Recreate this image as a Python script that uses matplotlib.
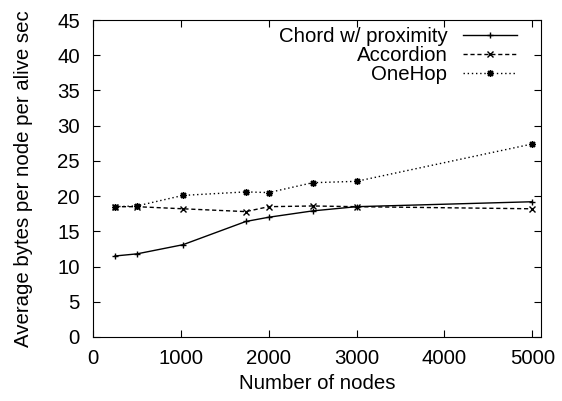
import matplotlib
matplotlib.use("Agg")
import matplotlib.pyplot as plt

plt.rcParams['font.family'] = ['Liberation Sans', 'DejaVu Sans']

nodes = [250, 500, 1024, 1740, 2000, 2500, 3000, 5000]
chord = [11.5, 11.8, 13.1, 16.4, 17.0, 17.9, 18.5, 19.2]
accordion = [18.5, 18.5, 18.2, 17.8, 18.5, 18.6, 18.5, 18.2]
onehop = [18.5, 18.6, 20.1, 20.6, 20.5, 21.9, 22.1, 27.4]

fs = 14.7

fig = plt.figure(figsize=(5.62, 4.01), dpi=100)
ax = fig.add_axes([93/562, 64/401, 448/562, 317/401])

ax.plot(nodes, chord, color='black', lw=1, ls='-', marker='+', ms=5, mew=1,
        label='Chord w/ proximity')
ax.plot(nodes, accordion, color='black', lw=1, ls=(0, (3, 2)), marker='x', ms=4, mew=1,
        label='Accordion')
ax.plot(nodes, onehop, color='black', lw=1, ls=(0, (1, 2)), marker=(8, 2, 0), ms=5, mew=1,
        label='OneHop')

ax.set_xlim(0, 5100)
ax.set_ylim(0, 45)
ax.set_xticks([0, 1000, 2000, 3000, 4000, 5000])
ax.set_yticks(range(0, 46, 5))
ax.tick_params(direction='in', top=True, right=True, length=5, labelsize=fs)
ax.tick_params(axis='y', pad=9.5)
ax.tick_params(axis='x', pad=9)
ax.set_xlabel('Number of nodes', fontsize=fs, labelpad=4)
ax.set_ylabel('Average bytes per node per alive sec', fontsize=fs)
ax.yaxis.set_label_coords(-0.134, 0.5)

ax.legend(loc='upper right', bbox_to_anchor=(0.946, 0.978), frameon=False,
          markerfirst=False, fontsize=fs, handlelength=2.65, labelspacing=0.0,
          borderpad=0, borderaxespad=0, handletextpad=0.75)

fig.savefig('out.png', dpi=100)
